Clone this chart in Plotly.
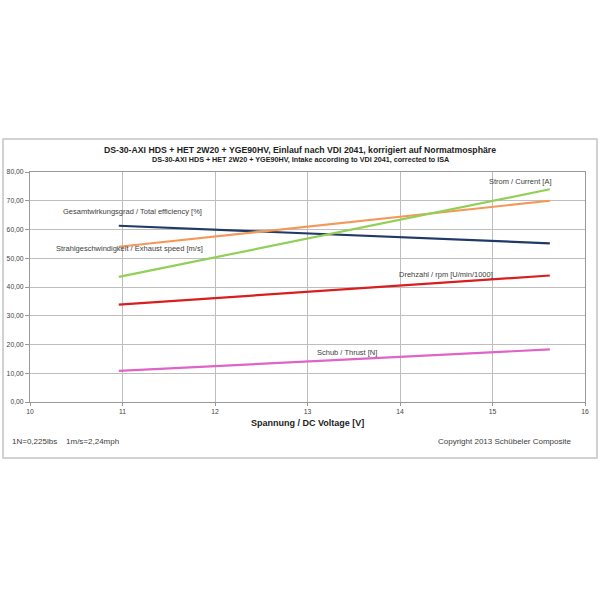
import plotly.graph_objects as go

voltage = [10.96, 15.62]
efficiency = [61.3, 55.2]
exhaust_speed = [54.0, 70.0]
current = [43.5, 74.0]
rpm = [33.9, 44.0]
thrust = [10.8, 18.3]

series = [
    ("Gesamtwirkungsgrad / Total efficiency [%]", efficiency, "#1F3A66"),
    ("Strahlgeschwindigkeit / Exhaust speed [m/s]", exhaust_speed, "#F4985A"),
    ("Strom / Current [A]", current, "#92CF56"),
    ("Drehzahl / rpm [U/min/1000]", rpm, "#D81E1E"),
    ("Schub / Thrust [N]", thrust, "#E063C6"),
]

x_ticks = [10, 11, 12, 13, 14, 15, 16]
y_ticks = [0, 10, 20, 30, 40, 50, 60, 70, 80]
y_tick_text = [f"{v:.2f}".replace(".", ",") for v in y_ticks]

fig = go.Figure()
for name, vals, col in series:
    fig.add_trace(go.Scatter(x=voltage, y=vals, mode="lines", name=name,
                             line=dict(color=col, width=2.2)))

lab_font = dict(family="Liberation Sans Narrow, Liberation Sans", size=7.5, color="#404040")
labels = [
    ("Gesamtwirkungsgrad / Total efficiency [%]", 10.33, 66.3),
    ("Strahlgeschwindigkeit / Exhaust speed [m/s]", 10.26, 53.4),
    ("Strom / Current [A]", 14.94, 76.8),
    ("Drehzahl / rpm [U/min/1000]", 13.97, 44.5),
    ("Schub / Thrust [N]", 13.08, 17.2),
]

tick_font = dict(family="Liberation Sans Narrow, Liberation Sans", size=6.8, color="#444")

fig.update_layout(
    width=600, height=600,
    margin=dict(l=30, r=15, t=172, b=198),
    paper_bgcolor="white", plot_bgcolor="white",
    showlegend=False,
    font=dict(family="Liberation Sans", color="#333"),
    xaxis=dict(range=[10, 16], tickvals=x_ticks, ticktext=[str(v) for v in x_ticks],
               showgrid=True, gridcolor="#BEBEBE", gridwidth=1,
               showline=True, linecolor="#9A9A9A", linewidth=1, mirror=True,
               ticks="outside", ticklen=3, tickcolor="#9A9A9A", automargin=False,
               tickfont=tick_font, zeroline=False),
    yaxis=dict(range=[0, 80], tickvals=y_ticks, ticktext=y_tick_text,
               showgrid=True, gridcolor="#BEBEBE", gridwidth=1,
               showline=True, linecolor="#9A9A9A", linewidth=1, mirror=True,
               ticks="outside", ticklen=4, tickcolor="#9A9A9A", automargin=False,
               tickfont=tick_font, zeroline=False),
)

pw, ph = 555.0, 230.0
def px(x): return (x - 30) / pw
def py(y): return (402 - y) / ph

annotations = []
for t, x, y in labels:
    annotations.append(dict(text=t, x=x, y=y, xref="x", yref="y", showarrow=False,
                            xanchor="left", yanchor="middle", font=lab_font))
annotations += [
    dict(text="<b>DS-30-AXI HDS + HET 2W20 + YGE90HV, Einlauf nach VDI 2041, korrigiert auf Normatmosphäre</b>",
         x=px(300), y=py(150), xref="paper", yref="paper", showarrow=False,
         xanchor="center", yanchor="middle",
         font=dict(family="Liberation Sans", size=8.7, color="#222")),
    dict(text="<b>DS-30-AXI HDS + HET 2W20 + YGE90HV, Intake according to VDI 2041, corrected to ISA</b>",
         x=px(300), y=py(159.5), xref="paper", yref="paper", showarrow=False,
         xanchor="center", yanchor="middle",
         font=dict(family="Liberation Sans", size=7.2, color="#222")),
    dict(text="<b>Spannung / DC Voltage [V]</b>",
         x=px(307), y=py(423), xref="paper", yref="paper", showarrow=False,
         xanchor="center", yanchor="middle",
         font=dict(family="Liberation Sans", size=9, color="#222")),
    dict(text="1N=0,225lbs&nbsp;&nbsp;&nbsp;&nbsp;1m/s=2,24mph",
         x=px(10), y=py(441), xref="paper", yref="paper", showarrow=False,
         xanchor="left", yanchor="middle",
         font=dict(family="Liberation Sans Narrow, Liberation Sans", size=8, color="#404040")),
    dict(text="Copyright 2013 Schübeler Composite",
         x=px(574), y=py(441), xref="paper", yref="paper", showarrow=False,
         xanchor="right", yanchor="middle",
         font=dict(family="Liberation Sans Narrow, Liberation Sans", size=8, color="#404040")),
]
fig.update_layout(annotations=annotations)

fig.add_shape(type="rect", xref="paper", yref="paper",
              x0=px(3), x1=px(597), y0=py(458), y1=py(139),
              line=dict(color="#C4C4C4", width=1.5), fillcolor="rgba(0,0,0,0)", layer="below")

fig.write_html("out.html", config={"displayModeBar": False},
               post_script="document.body.style.margin='0px';")
